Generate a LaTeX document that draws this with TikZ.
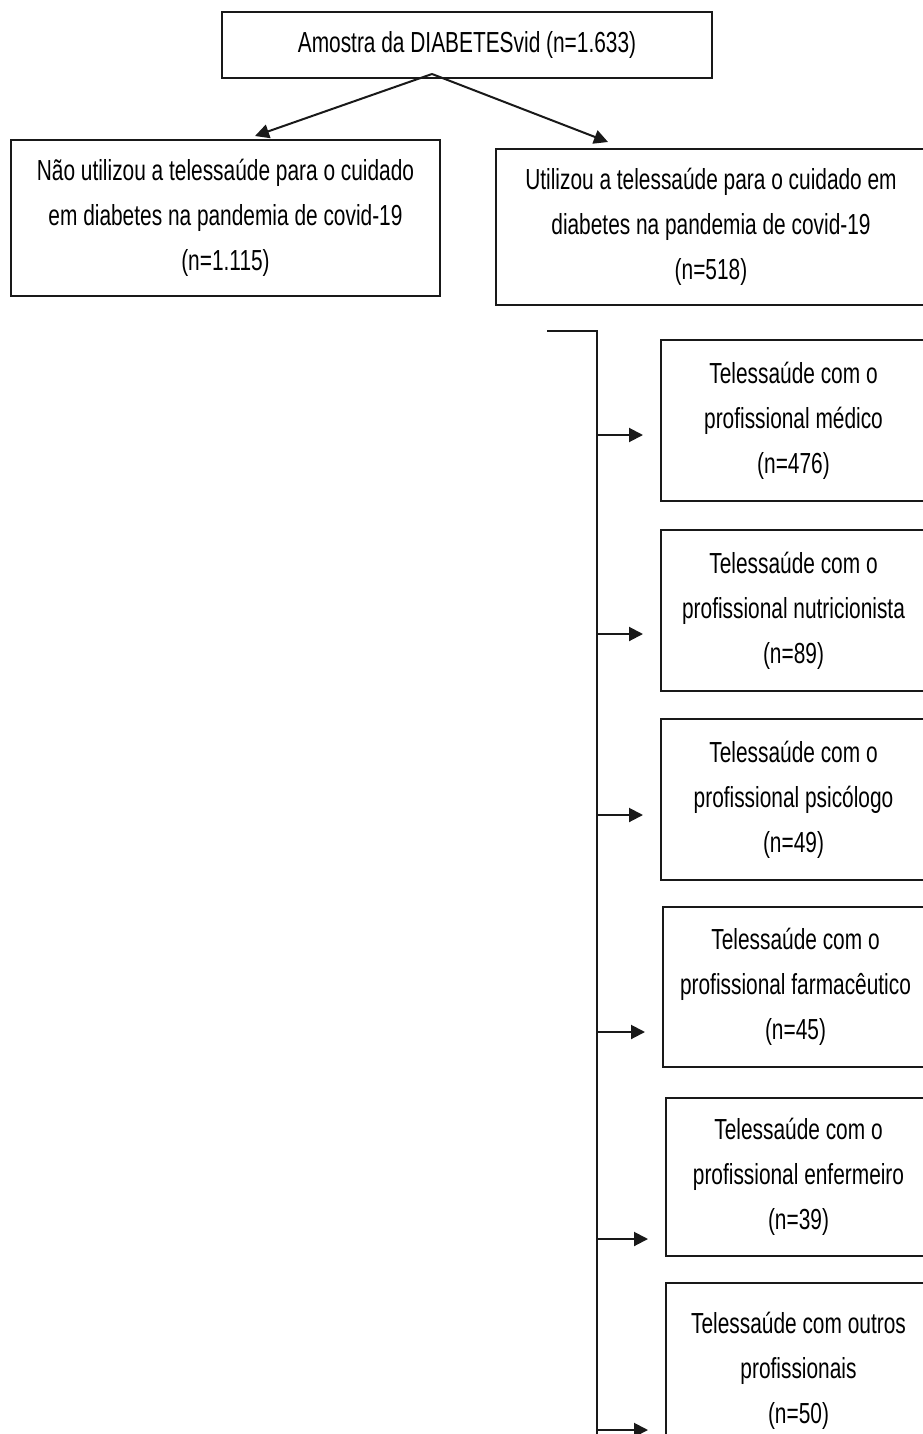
\documentclass[tikz,border=0pt]{standalone}
\usepackage{fontspec}
\setmainfont[FakeStretch=0.72]{Liberation Sans}
\usetikzlibrary{arrows.meta,positioning,calc}

\begin{document}
\begin{tikzpicture}[x=1pt, y=-1pt,
  font=\fontsize{29}{45}\selectfont,
  box/.style={draw=black!90, line width=2pt, align=center, inner sep=0pt,
              anchor=north west},
  prof/.style={box, minimum width=265pt, minimum height=161pt},
  ar/.style={-{Triangle[length=14pt,width=14pt]}, draw=black!90, line width=2pt}]

\useasboundingbox (0,0) rectangle (923,1434);
\clip (0,0) rectangle (923,1434);

% sample and first split
\node[box, minimum width=490pt, minimum height=66pt] (amostra) at (221,11)
     {Amostra da DIABETESvid (n=1.633)};
\node[box, minimum width=429pt, minimum height=156pt] (nao) at (10,139)
     {Não utilizou a telessaúde para o cuidado\\em diabetes na pandemia de covid-19\\(n=1.115)};
\node[box, minimum width=430pt, minimum height=156pt] (sim) at (495,148)
     {Utilizou a telessaúde para o cuidado em\\diabetes na pandemia de covid-19\\(n=518)};

\coordinate (split) at (432,74);
\draw[ar] (split) -- ($(nao.north west)+(245,-3)$);
\draw[ar] (split) -- ($(sim.north west)+(113,-6)$);

% professionals
\node[prof] (med) at (660,339)  {Telessaúde com o\\profissional médico\\(n=476)};
\node[prof] (nut) at (660,529)  {Telessaúde com o\\profissional nutricionista\\(n=89)};
\node[prof] (psi) at (660,718)  {Telessaúde com o\\profissional psicólogo\\(n=49)};
\node[prof, minimum height=160pt] (far) at (662,906)
     {Telessaúde com o\\profissional farmacêutico\\(n=45)};
\node[prof, minimum height=158pt] (enf) at (665,1097)
     {Telessaúde com o\\profissional enfermeiro\\(n=39)};
\node[prof, minimum height=176pt] (out) at (665,1282)
     {Telessaúde com outros\\profissionais\\(n=50)};

% bracket
\coordinate (brk) at (547,331);
\coordinate (spine) at (597,331);
\coordinate (spine-end) at (597,1440);
\draw[line width=2pt, draw=black!90] (brk) -- (spine) -- (spine-end);
\foreach \y/\n in {435/med, 634/nut, 815/psi, 1032/far, 1239/enf, 1430/out}{
  \coordinate (s) at (597,\y);
  \draw[ar, shorten >=17pt] (s) -- (s -| \n.west);
}
\end{tikzpicture}
\end{document}
